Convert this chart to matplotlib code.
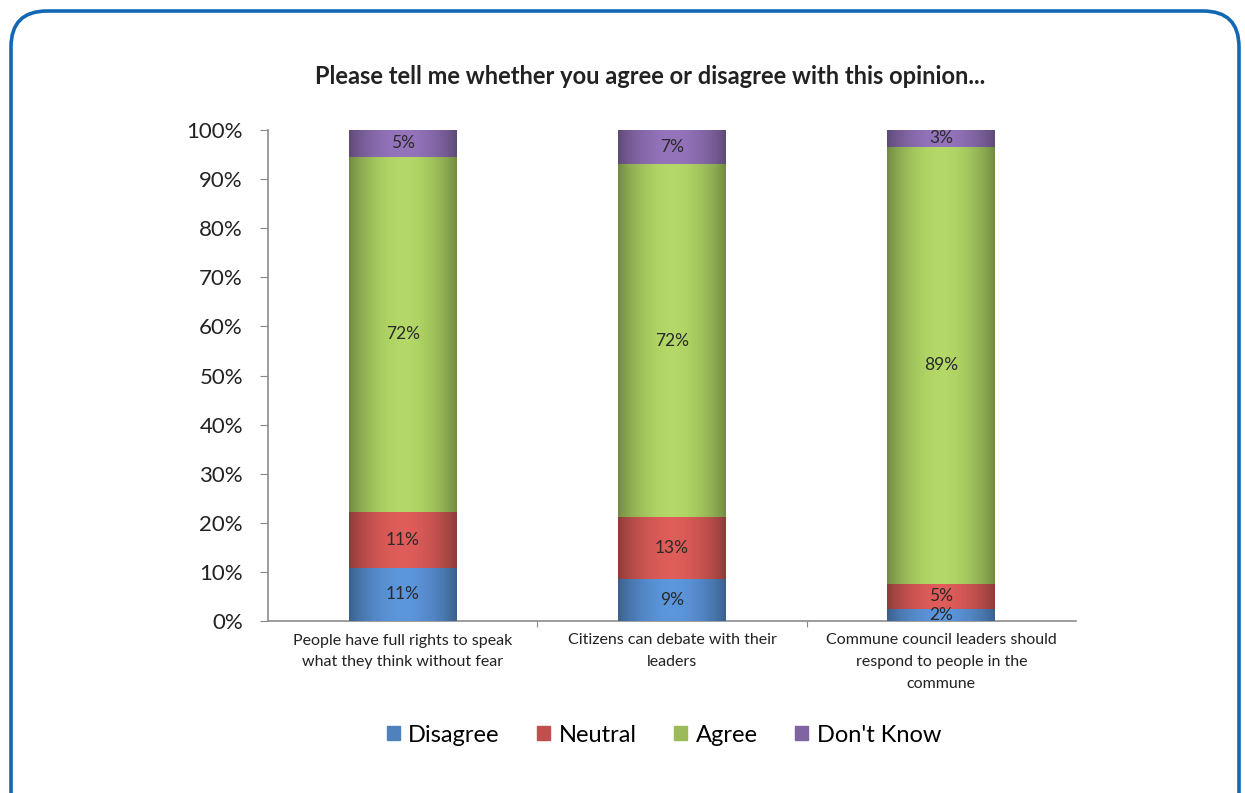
import numpy as np
import matplotlib.pyplot as plt
from matplotlib.patches import FancyBboxPatch, Patch
from matplotlib.colors import to_rgb

plt.rcParams['font.family'] = ['Lato', 'DejaVu Sans']

# survey results, share of respondents per statement
statements = ['People have full rights to speak\nwhat they think without fear',
              'Citizens can debate with their\nleaders',
              'Commune council leaders should\nrespond to people in the\ncommune']
answers = ['Disagree', 'Neutral', 'Agree', "Don't Know"]
disagree = [10.8, 8.6, 2.4]
neutral = [11.4, 12.6, 5.2]
agree = [72.4, 71.8, 89.0]
dont_know = [5.4, 7.0, 3.4]
colors = ['#4F81BD', '#C0504D', '#9BBB59', '#8064A2']

W, H = 1245, 793
fig = plt.figure(figsize=(W / 100, H / 100), dpi=100)

# blue rounded frame around the whole panel
frame = fig.add_axes([0, 0, 1, 1])
frame.set_xlim(0, W); frame.set_ylim(H, 0); frame.axis('off')
frame.add_patch(FancyBboxPatch((11, 11), 1228, 830,
                               boxstyle='round,pad=0,rounding_size=36',
                               fill=False, ec='#1268B3', lw=2.6))

ax = fig.add_axes([268 / W, 1 - 621 / H, 808 / W, 491 / H])
x = np.arange(len(statements))
bw = 0.4
series = [disagree, neutral, agree, dont_know]


def shaded(c, n=64):
    # horizontal shading: darker edges, lighter centre
    t = np.linspace(0, 1, n)
    f = 0.74 + 0.42 * np.sin(np.pi * t) ** 0.8
    rgb = np.clip(np.outer(f, to_rgb(c)), 0, 1)
    return rgb[None, :, :]


bottom = np.zeros(len(x))
for vals, c, name in zip(series, colors, answers):
    v = np.array(vals) / 100
    ax.bar(x, v, bw, bottom=bottom, color=c, label=name, zorder=2)
    for xi, b, h, pct in zip(x, bottom, v, vals):
        ax.imshow(shaded(c), extent=(xi - bw / 2, xi + bw / 2, b, b + h),
                  aspect='auto', interpolation='bilinear', zorder=3)
        ax.text(xi, b + h / 2, f'{pct:.0f}%', ha='center', va='center',
                fontsize=12.5, color='#2a2a2a', zorder=4)
    bottom += v

ax.set_xlim(-0.5, len(x) - 0.5)
ax.set_ylim(0, 1)
ax.set_yticks(np.arange(0, 1.01, 0.1))
ax.set_yticklabels([f'{v}%' for v in range(0, 101, 10)], fontsize=16, color='#222222')
ax.set_xticks(x[:-1] + 0.5)
ax.set_xticklabels([])
ax.set_xticks(x, minor=True)
ax.set_xticklabels(statements, minor=True, fontsize=11.5, color='#222222',
                   linespacing=1.7)
ax.tick_params(axis='x', which='minor', length=0, pad=9)
ax.tick_params(axis='x', which='major', length=4, color='#888888')
ax.tick_params(axis='y', length=6, color='#888888', pad=12)
for s in ['top', 'right']:
    ax.spines[s].set_visible(False)
for s in ['left', 'bottom']:
    ax.spines[s].set_color('#8c8c8c')
    ax.spines[s].set_linewidth(1.2)

fig.text(650 / W, 1 - 76 / H, 'Please tell me whether you agree or disagree with this opinion...',
         ha='center', va='center', fontsize=17, fontweight='bold', color='#222222')

handles = [Patch(color=c, label=a) for c, a in zip(colors, answers)]
fig.legend(handles=handles, loc='center', bbox_to_anchor=(664 / W, 1 - 735 / H),
           ncol=4, frameon=False, fontsize=17, handlelength=0.55, handleheight=0.55,
           handletextpad=0.35, columnspacing=1.6)

fig.savefig('out.png', dpi=100)
